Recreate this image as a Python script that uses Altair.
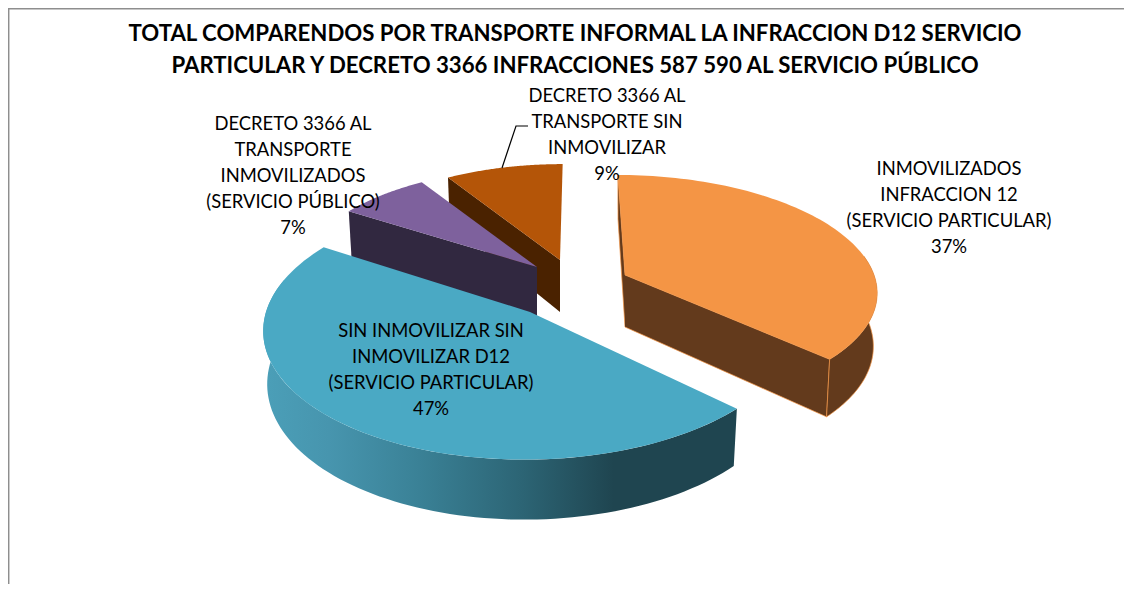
import numpy as np
import pandas as pd
import altair as alt

# ---- data ----
names = ["INMOVILIZADOS INFRACCION 12 (SERVICIO PARTICULAR)",
         "SIN INMOVILIZAR SIN INMOVILIZAR D12 (SERVICIO PARTICULAR)",
         "DECRETO 3366 AL TRANSPORTE INMOVILIZADOS (SERVICIO PÚBLICO)",
         "DECRETO 3366 AL TRANSPORTE SIN INMOVILIZAR"]
shares = [37, 47, 7, 9]
title_lines = ["TOTAL COMPARENDOS POR TRANSPORTE INFORMAL LA INFRACCION D12 SERVICIO",
               "PARTICULAR Y DECRETO 3366 INFRACCIONES 587 590 AL SERVICIO PÚBLICO"]
label_lines = [
    ["INMOVILIZADOS", "INFRACCION 12", "(SERVICIO PARTICULAR)", "37%"],
    ["SIN INMOVILIZAR SIN", "INMOVILIZAR D12", "(SERVICIO PARTICULAR)", "47%"],
    ["DECRETO 3366 AL", "TRANSPORTE", "INMOVILIZADOS", "(SERVICIO PÚBLICO)", "7%"],
    ["DECRETO 3366 AL", "TRANSPORTE SIN", "INMOVILIZAR", "9%"],
]

# ---- layout of the exploded, tilted pie ----
GEOM = [  # apex x, apex y, radius x, radius y, shear
    (625, 275, 249, 112.6, 8),
    (530, 312, 264, 129, -5),
    (537, 267, 238, 111, 0),
    (560, 260, 236, 108, -3),
]
TOPS = ["#f49545", "#4aa9c4", "#7e619d", "#b45508"]
WALLS = ["#633a1c", "#1f4550", "#312840", "#4a2200"]
K = 0.126
LABEL_POS = [(949, 169), (431, 331), (293, 124), (607, 96)]
W, H = 1116, 576

edges = np.cumsum([0] + shares) / sum(shares) * 360.0


def project(g, deg, r=1.0):
    t = np.radians(deg)
    u, v = r * np.sin(t), -r * np.cos(t)
    s = 1 / (1 - K * v)
    return g[0] + (g[2] * u + g[4] * v) * s, g[1] + g[3] * v * s, v


def lower(g, deg, r=1.0):
    x, y, v = project(g, deg, r)
    return g[0] + (x - g[0]) * 0.985, y + 52 + 8 * v


def arc(g, a0, a1, fn):
    return [fn(g, d)[:2] for d in np.linspace(a0, a1, 90)]


xs = alt.Scale(domain=[8, 8 + W], nice=False, zero=False, padding=0)
ys = alt.Scale(domain=[8 + H, 8], nice=False, zero=False, padding=0)


def poly(points, fill, stroke=None):
    df = pd.DataFrame(points, columns=["x", "y"])
    df["i"] = range(len(df))
    kw = {"stroke": stroke, "strokeWidth": 0.7} if stroke else {"strokeWidth": 0}
    return alt.Chart(df).mark_line(filled=True, fill=fill, interpolate="linear", **kw).encode(
        x=alt.X("x:Q", scale=xs, axis=None),
        y=alt.Y("y:Q", scale=ys, axis=None),
        order="i:Q",
    )


def top_face(n):
    g = GEOM[n]
    return [(g[0], g[1])] + arc(g, edges[n], edges[n + 1], project)


def radial_wall(n, deg):
    g = GEOM[n]
    apex_low = lower(g, deg, 0.0)
    return [(g[0], g[1]), project(g, deg)[:2], lower(g, deg), apex_low]


def arc_wall(n, a0, a1):
    g = GEOM[n]
    return arc(g, a0, a1, project) + arc(g, a1, a0, lower)


blue_gradient = alt.Gradient(
    gradient="linear", x1=0, x2=1, y1=0, y2=0,
    stops=[alt.GradientStop(offset=0, color="#4b9fb8"),
           alt.GradientStop(offset=0.14, color="#4795ae"),
           alt.GradientStop(offset=0.33, color="#3a8196"),
           alt.GradientStop(offset=0.55, color="#2c6474"),
           alt.GradientStop(offset=0.74, color="#1f4550"),
           alt.GradientStop(offset=1, color="#1f4550")])

layers = [
    poly(radial_wall(3, edges[3]), WALLS[3]),
    poly(top_face(3), TOPS[3]),
    poly(radial_wall(2, edges[2]), WALLS[2]),
    poly(top_face(2), TOPS[2]),
    poly(arc_wall(1, edges[1], 285), blue_gradient),
    poly(top_face(1), TOPS[1]),
    poly(radial_wall(0, edges[0]), WALLS[0], TOPS[0]),
    poly(radial_wall(0, edges[1]), WALLS[0], TOPS[0]),
    poly(arc_wall(0, 80, edges[1]), WALLS[0], TOPS[0]),
    poly(top_face(0), TOPS[0]),
]

# frame
frame = pd.DataFrame({"x": [8.7, 8.7, 1124], "y": [584, 8.7, 8.7], "i": [0, 1, 2]})
layers.insert(0, alt.Chart(frame).mark_line(color="#8e8e8e", strokeWidth=1.5).encode(
    x=alt.X("x:Q", scale=xs, axis=None), y=alt.Y("y:Q", scale=ys, axis=None), order="i:Q"))

# leader line
leader = pd.DataFrame({"x": [502, 516, 528], "y": [168, 126, 126], "i": [0, 1, 2]})
layers.append(alt.Chart(leader).mark_line(color="#000000", strokeWidth=1.2).encode(
    x=alt.X("x:Q", scale=xs, axis=None), y=alt.Y("y:Q", scale=ys, axis=None), order="i:Q"))

# labels
rows = []
for lines, (lx, ly) in zip(label_lines, LABEL_POS):
    for j, t in enumerate(lines):
        rows.append({"x": lx, "y": ly + j * 26, "t": t})
layers.append(alt.Chart(pd.DataFrame(rows)).mark_text(
    font="Lato", fontSize=18.4, color="#000000", align="center", baseline="middle").encode(
    x=alt.X("x:Q", scale=xs, axis=None), y=alt.Y("y:Q", scale=ys, axis=None), text="t:N"))

# title
title_df = pd.DataFrame({"x": [575, 575], "y": [34, 66], "t": title_lines})
layers.append(alt.Chart(title_df).mark_text(
    font="Lato", fontSize=22.2, fontWeight="bold", color="#000000", align="center", baseline="middle").encode(
    x=alt.X("x:Q", scale=xs, axis=None), y=alt.Y("y:Q", scale=ys, axis=None), text="t:N"))

chart = alt.layer(*layers).properties(
    width=W, height=H, padding=0, background="#ffffff",
    autosize=alt.AutoSizeParams(type="none"),
).configure_view(stroke=None).resolve_scale(x="shared", y="shared")

chart.save("out.html", embed_options={"renderer": "svg", "actions": False})
